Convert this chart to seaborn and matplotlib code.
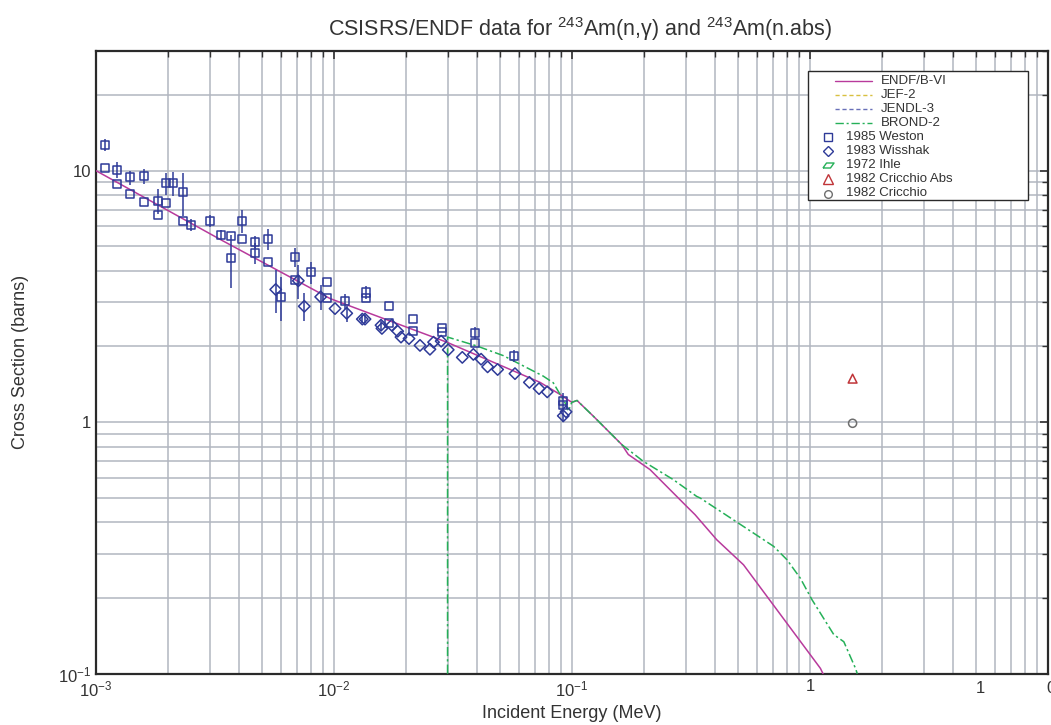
import numpy as np
import matplotlib
matplotlib.use("Agg")
import matplotlib.pyplot as plt
import seaborn as sns
from matplotlib.ticker import LogLocator, NullFormatter, FixedLocator, FixedFormatter
from matplotlib.lines import Line2D
from matplotlib.patches import Rectangle

# ---------------- data ----------------
endf_e = [1e-3, 3.4e-3, 9.64e-3, 0.0298, 0.0734, 0.089, 0.097, 0.100, 0.105,
          0.123, 0.1618, 0.1724, 0.2127, 0.303, 0.3287, 0.4055, 0.5256, 1.106, 1.134]
endf_s = [10.0, 5.27, 3.1, 2.08, 1.44, 1.29, 1.22, 1.20, 1.22,
          1.056, 0.815, 0.744, 0.648, 0.463, 0.429, 0.341, 0.271, 0.105, 0.1]

brond_e = [0.03, 0.03, 0.0398, 0.0514, 0.0757, 0.0834, 0.0935, 0.0966, 0.0998, 0.105,
           0.123, 0.1618, 0.1993, 0.2665, 0.334, 0.345, 0.50, 0.703, 0.80, 0.91,
           1.019, 1.259, 1.387, 1.553, 1.58]
brond_s = [0.1, 2.18, 2.01, 1.84, 1.525, 1.435, 1.195, 1.106, 1.20, 1.22,
           1.056, 0.815, 0.699, 0.591, 0.507, 0.50, 0.397, 0.321, 0.284, 0.24,
           0.197, 0.143, 0.134, 0.105, 0.1]

weston_e = [1.091e-3, 1.091e-3, 1.229e-3, 1.229e-3, 1.39e-3, 1.39e-3, 1.592e-3, 1.592e-3,
            1.816e-3, 1.816e-3, 1.963e-3, 1.963e-3, 2.113e-3, 2.312e-3, 2.312e-3, 2.50e-3,
            3.01e-3, 3.34e-3, 3.68e-3, 3.68e-3, 4.12e-3, 4.12e-3, 4.64e-3, 4.64e-3,
            5.26e-3, 5.26e-3, 6.86e-3, 6.86e-3, 5.99e-3, 8.0e-3, 9.37e-3, 9.37e-3,
            0.01112, 0.01359, 0.01359, 0.01702, 0.01702, 0.02154, 0.02154, 0.02844,
            0.02844, 0.0391, 0.0391, 0.0571, 0.0919, 0.0919]
weston_s = [12.66, 10.22, 10.09, 8.85, 9.41, 8.08, 9.50, 7.52,
            7.59, 6.68, 8.91, 7.43, 8.91, 8.20, 6.32, 6.08,
            6.32, 5.54, 5.48, 4.48, 6.32, 5.34, 5.21, 4.70,
            5.34, 4.32, 4.54, 3.67, 3.15, 3.94, 3.61, 3.11,
            3.03, 3.28, 3.13, 2.90, 2.47, 2.57, 2.30, 2.36,
            2.28, 2.26, 2.06, 1.83, 1.21, 1.166]
weston_err = [0.7, 0.0, 0.7, 0.0, 0.6, 0.0, 0.65, 0.0,
              0.85, 0.0, 0.9, 0.0, 0.95, 1.6, 0.0, 0.33,
              0.35, 0.26, 0.0, 1.05, 0.67, 0.0, 0.3, 0.45,
              0.5, 0.0, 0.4, 0.0, 0.63, 0.4, 0.0, 0.0,
              0.2, 0.2, 0.0, 0.0, 0.0, 0.0, 0.0, 0.0,
              0.0, 0.12, 0.0, 0.1, 0.1, 0.0]

wisshak_e = [5.69e-3, 7.08e-3, 7.50e-3, 8.79e-3, 0.0101, 0.01131, 0.01315, 0.0135,
             0.01576, 0.0159, 0.01748, 0.01852, 0.01912, 0.02066, 0.02298, 0.0253,
             0.0262, 0.0282, 0.0302, 0.0346, 0.0385, 0.0415, 0.0442, 0.0487,
             0.0576, 0.0662, 0.0727, 0.0787, 0.0919, 0.0944]
wisshak_s = [3.37, 3.65, 2.89, 3.15, 2.83, 2.71, 2.57, 2.57,
             2.43, 2.36, 2.43, 2.30, 2.18, 2.15, 2.02, 1.95,
             2.08, 2.10, 1.94, 1.81, 1.86, 1.78, 1.66, 1.62,
             1.56, 1.44, 1.36, 1.32, 1.06, 1.10]
wisshak_err = [0.65, 0.55, 0.37, 0.35, 0.0, 0.2, 0.1, 0.1,
               0.1, 0.0, 0.0, 0.0, 0.0, 0.0, 0.0, 0.0,
               0.0, 0.0, 0.0, 0.0, 0.0, 0.0, 0.0, 0.0,
               0.0, 0.0, 0.0, 0.0, 0.06, 0.0]

cricchio_abs_e = [1.51]
cricchio_abs_s = [1.49]
cricchio_e = [1.51]
cricchio_s = [0.99]

legend_labels = ["ENDF/B-VI", "JEF-2", "JENDL-3", "BROND-2", "1985 Weston",
                 "1983 Wisshak", "1972 Ihle", "1982 Cricchio Abs", "1982 Cricchio"]

# ---------------- style ----------------
sns.set_style("white")
plt.rcParams["font.family"] = ["Liberation Sans", "DejaVu Sans"]
plt.rcParams["mathtext.fontset"] = "custom"
plt.rcParams["mathtext.rm"] = "Liberation Sans"
plt.rcParams["mathtext.it"] = "Liberation Sans"
plt.rcParams["mathtext.default"] = "regular"

MAG = "#B83A9C"
GRN = "#25B058"
NAVY = "#2E3A98"
RED = "#C03438"
GRAY = "#6E6E6E"
GRID = "#B2B6C0"
TXT = "#333333"

fig = plt.figure(figsize=(10.51, 7.25), dpi=100)
W, H = 1051, 725
L, R, T, B = 96, 1048, 50.7, 673.7
ax = fig.add_axes([L / W, 1 - B / H, (R - L) / W, (B - T) / H])
ax.set_xscale("log")
ax.set_yscale("log")
ax.set_xlim(1e-3, 10)
ax.set_ylim(0.1, 30)

ax.xaxis.set_minor_locator(LogLocator(base=10, subs=np.arange(2, 10), numticks=50))
ax.yaxis.set_minor_locator(LogLocator(base=10, subs=np.arange(2, 10), numticks=50))
ax.xaxis.set_minor_formatter(NullFormatter())
ax.yaxis.set_minor_formatter(NullFormatter())
ax.xaxis.set_major_locator(FixedLocator([1e-3, 1e-2, 1e-1, 1, 10]))
ax.xaxis.set_major_formatter(FixedFormatter(["$10^{-3}$", "$10^{-2}$", "$10^{-1}$", "1", ""]))
ax.yaxis.set_major_locator(FixedLocator([0.1, 1, 10]))
ax.yaxis.set_major_formatter(FixedFormatter(["$10^{-1}$", "1", "10"]))

ax.grid(True, which="both", color=GRID, lw=1.1)
ax.set_axisbelow(True)
ax.tick_params(which="both", direction="in", top=True, right=True, color="#333333")
ax.tick_params(which="major", length=6, width=1.2, labelsize=12, labelcolor=TXT)
ax.tick_params(which="minor", length=4, width=1.0)
ax.tick_params(axis="x", pad=4)
for sp in ax.spines.values():
    sp.set_color("#2a2a2a")
    sp.set_linewidth(1.6)

# extra (odd) x tick labels at right end
ax.text(5.2, -0.012, "1", transform=ax.get_xaxis_transform(), ha="center", va="top",
        fontsize=12, color=TXT, clip_on=False)
ax.text(10.3, -0.012, "0", transform=ax.get_xaxis_transform(), ha="center", va="top",
        fontsize=12, color=TXT, clip_on=False)

# ---------------- data drawing ----------------
sns.lineplot(x=endf_e, y=endf_s, sort=False, estimator=None, color=MAG, lw=1.1, ax=ax, zorder=3)
sns.lineplot(x=brond_e, y=brond_s, sort=False, estimator=None, color=GRN, lw=1.1, ax=ax,
             zorder=3, dashes=False, linestyle=(0, (6, 2, 1.5, 2)))

ax.errorbar(weston_e, weston_s, yerr=weston_err, fmt="none", ecolor=NAVY, elinewidth=1.1, zorder=4)
ax.errorbar(wisshak_e, wisshak_s, yerr=wisshak_err, fmt="none", ecolor=NAVY, elinewidth=1.1, zorder=4)
sns.scatterplot(x=weston_e, y=weston_s, marker="s", s=34, facecolors="none",
                edgecolors=NAVY, linewidths=1.1, ax=ax, zorder=5)
sns.scatterplot(x=wisshak_e, y=wisshak_s, marker="D", s=34, facecolors="none",
                edgecolors=NAVY, linewidths=1.1, ax=ax, zorder=5)
sns.scatterplot(x=cricchio_abs_e, y=cricchio_abs_s, marker="^", s=40, facecolors="none",
                edgecolors=RED, linewidths=1.1, ax=ax, zorder=5)
sns.scatterplot(x=cricchio_e, y=cricchio_s, marker="o", s=34, facecolors="none",
                edgecolors=GRAY, linewidths=1.1, ax=ax, zorder=5)

# ---------------- labels ----------------
fig.text(580 / W, 1 - 36 / H, "CSISRS/ENDF data for $^{243}$Am(n,γ) and $^{243}$Am(n.abs)",
         ha="center", va="baseline", fontsize=15.5, color=TXT)
fig.text(572 / W, 1 - 718 / H, "Incident Energy (MeV)", ha="center", va="baseline",
         fontsize=13, color=TXT)
fig.text(21 / W, 1 - 362 / H, "Cross Section (barns)", ha="center", va="center",
         rotation=90, fontsize=13, color=TXT)

# ---------------- legend (drawn manually) ----------------
def ax_xy(px, py):
    return (px - L) / (R - L), (B - py) / (B - T)

x0, y0 = ax_xy(808.3, 200)
x1, y1 = ax_xy(1028.3, 70.7)
ax.add_patch(Rectangle((x0, y0), x1 - x0, y1 - y0, transform=ax.transAxes,
                       facecolor="white", edgecolor="#2a2a2a", lw=1.0, zorder=6))
rows_py = [80.7 + 14.1 * i for i in range(9)]
line_styles = [(MAG, "-"), ("#D8C040", (0, (3, 2))), ("#6870B8", (0, (3, 2))),
               (GRN, (0, (6, 2, 1.5, 2)))]
for i, (c, ls) in enumerate(line_styles):
    xa, ya = ax_xy(835, rows_py[i])
    xb, _ = ax_xy(871.7, rows_py[i])
    ax.add_line(Line2D([xa, xb], [ya, ya], transform=ax.transAxes, color=c, ls=ls,
                       lw=1.0, zorder=7))
    xt, _ = ax_xy(881, rows_py[i])
    ax.text(xt, ya, legend_labels[i], transform=ax.transAxes, va="center", ha="left",
            fontsize=9.5, color=TXT, zorder=7)

ihle_marker = [(-1.0, -0.45), (0.35, -0.45), (1.0, 0.45), (-0.35, 0.45), (-1.0, -0.45)]
mk = [("s", NAVY, 6), ("D", NAVY, 5.5), (ihle_marker, GRN, 8), ("^", RED, 6.5), ("o", GRAY, 5.5)]
for j, (m, c, ms) in enumerate(mk):
    i = 4 + j
    xm, ym = ax_xy(827.7, rows_py[i])
    ax.add_line(Line2D([xm], [ym], transform=ax.transAxes, marker=m, markersize=ms,
                       markerfacecolor="none", markeredgecolor=c, markeredgewidth=1.0,
                       ls="none", zorder=7))
    xt, _ = ax_xy(845.7, rows_py[i])
    ax.text(xt, ym, legend_labels[i], transform=ax.transAxes, va="center", ha="left",
            fontsize=9.5, color=TXT, zorder=7)

if ax.get_legend() is not None:
    ax.get_legend().remove()

fig.savefig("out.png", dpi=100)
